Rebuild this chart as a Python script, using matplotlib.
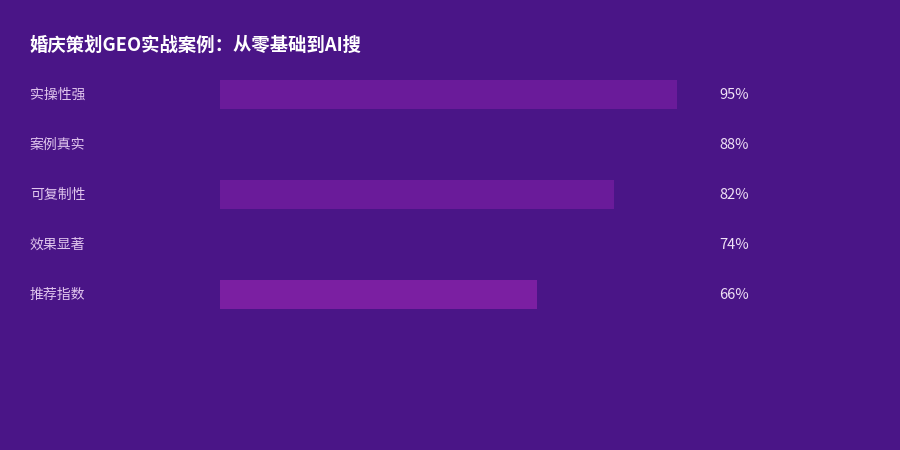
import matplotlib
matplotlib.use("Agg")
import matplotlib.pyplot as plt
import matplotlib.transforms as mtransforms

plt.rcParams['font.family'] = ['Noto Sans CJK SC', 'DejaVu Sans']

title = "婚庆策划GEO实战案例：从零基础到AI搜"
categories = ["实操性强", "案例真实", "可复制性", "效果显著", "推荐指数"]
values = [95, 88, 82, 74, 66]
bar_colors = ["#6a1b9a", "#4a1587", "#6a1b9a", "#4a1587", "#7b1fa2"]

BG = "#4a1587"

fig = plt.figure(figsize=(9, 4.5), dpi=100, facecolor=BG)
# axes: x from 220px to 701px (0..100%), rows 69px..319px from top
ax = fig.add_axes([220 / 900, 1 - 319 / 450, 481 / 900, 250 / 450])
ax.set_facecolor(BG)
ax.set_xlim(0, 100)
ax.set_ylim(len(categories) - 0.5, -0.5)
ax.axis("off")

ys = list(range(len(categories)))
ax.barh(ys, values, height=0.58, color=bar_colors, left=0)

trans = mtransforms.blended_transform_factory(fig.transFigure, ax.transData)
for y, cat, v in zip(ys, categories, values):
    ax.text(30 / 900, y + 0.02, cat, transform=trans, ha="left", va="center",
            fontsize=10, color="#e1c6ee")
    ax.text(719 / 900, y + 0.02, f"{v}%", transform=trans, ha="left", va="center",
            fontsize=10.5, color="#f0e2f6")

fig.text(30 / 900, 1 - 45 / 450, title, ha="left", va="center",
         fontsize=13.2, fontweight="bold", color="white")

fig.savefig("out.png", dpi=100, facecolor=BG)
